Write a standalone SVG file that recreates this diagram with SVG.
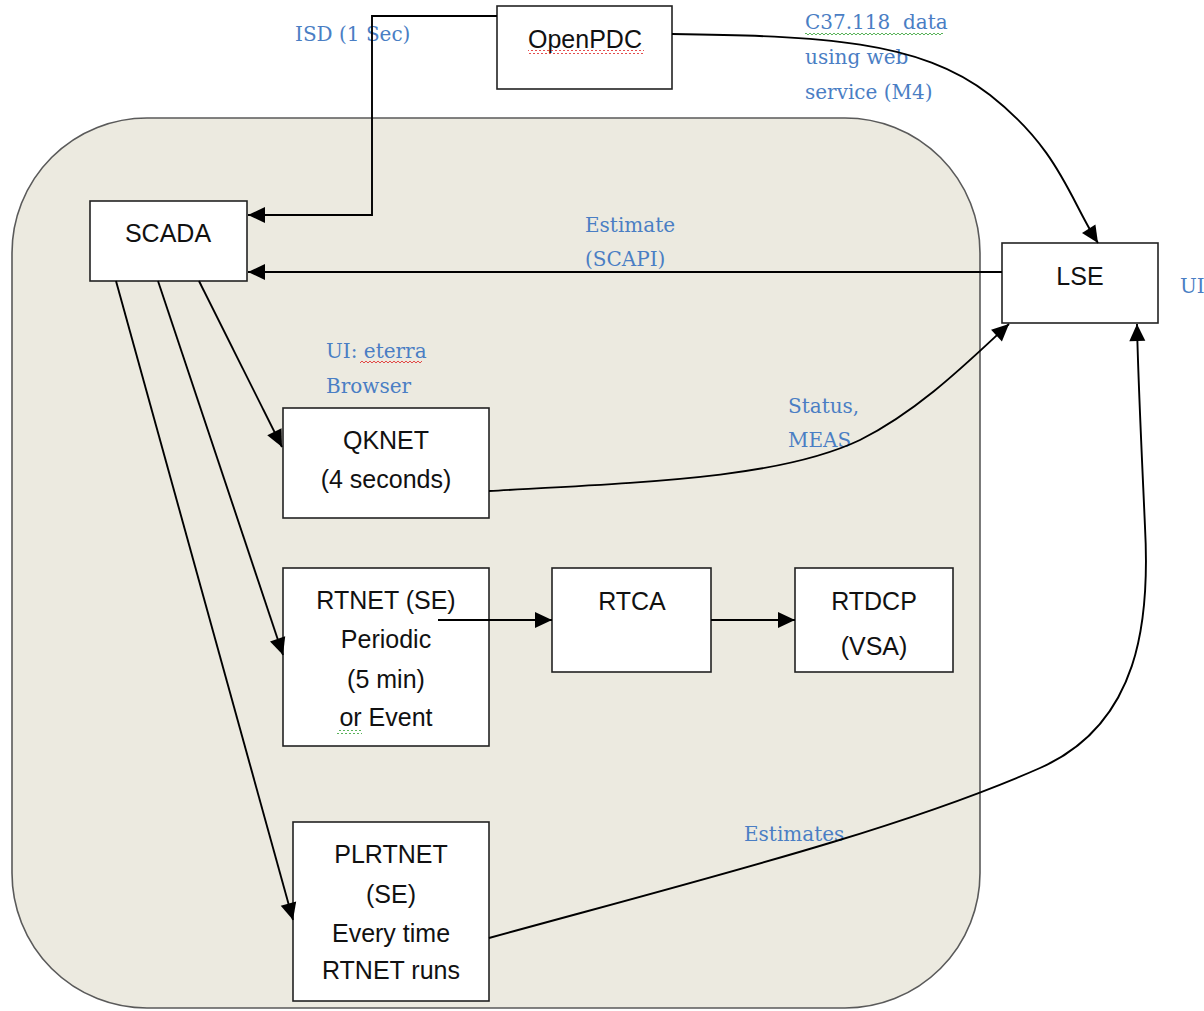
<svg xmlns="http://www.w3.org/2000/svg" width="1204" height="1011" viewBox="0 0 1204 1011">
<defs>
<marker id="ah" markerUnits="userSpaceOnUse" markerWidth="20" markerHeight="20" refX="17" refY="8" orient="auto" overflow="visible">
<path d="M0,0 L17,8 L0,16 z" fill="#000"/>
</marker>
<pattern id="wr" width="4" height="4" patternUnits="userSpaceOnUse"><path d="M0,3 L2,1 L4,3" stroke="#e02020" fill="none" stroke-width="0.8"/></pattern>
<pattern id="wg" width="4" height="4" patternUnits="userSpaceOnUse"><path d="M0,3 L2,1 L4,3" stroke="#30a030" fill="none" stroke-width="0.8"/></pattern>
<style>
.box{fill:#fff;stroke:#222;stroke-width:1.6}
.t{font-family:"Liberation Sans",Arial,sans-serif;font-size:25px;fill:#111;text-anchor:middle}
.lbl{font-family:"DejaVu Serif","Liberation Serif",serif;font-size:20px;fill:#4A7EC4;white-space:pre}
.c{fill:none;stroke:#000;stroke-width:1.9}
</style>
</defs>
<rect x="0" y="0" width="1204" height="1011" fill="#fff"/>
<g id="region">
<rect x="12" y="118" width="968" height="890" rx="135" ry="135" fill="#ECEAE0" stroke="#5a5a5a" stroke-width="1.6"/>
</g>
<g id="labels">
<text class="lbl" x="295" y="41">ISD (1 Sec)</text>
<text class="lbl" x="805" y="29" xml:space="preserve">C37.118  data</text>
<rect x="805" y="31" width="138" height="4" fill="url(#wg)"/>
<text class="lbl" x="805" y="64">using web</text>
<text class="lbl" x="805" y="99">service (M4)</text>
<text class="lbl" x="585" y="232">Estimate</text>
<text class="lbl" x="585" y="266">(SCAPI)</text>
<text class="lbl" x="1180" y="293">UI</text>
<text class="lbl" x="326" y="358">UI: eterra</text>
<rect x="360" y="361" width="62" height="4" fill="url(#wr)"/>
<text class="lbl" x="326" y="393">Browser</text>
<text class="lbl" x="788" y="413">Status,</text>
<text class="lbl" x="788" y="447">MEAS</text>
<text class="lbl" x="744" y="841">Estimates</text>
</g>
<g id="OpenPDC">
<rect class="box" x="497" y="6" width="175" height="83"/>
<text class="t" x="585" y="48">OpenPDC</text>
<rect x="528" y="50" width="116" height="4" fill="url(#wr)"/>
</g>
<g id="SCADA">
<rect class="box" x="90" y="201" width="157" height="80"/>
<text class="t" x="168" y="242">SCADA</text>
</g>
<g id="LSE">
<rect class="box" x="1002" y="243" width="156" height="80"/>
<text class="t" x="1080" y="285">LSE</text>
</g>
<g id="QKNET">
<rect class="box" x="283" y="408" width="206" height="110"/>
<text class="t" x="386" y="449">QKNET</text>
<text class="t" x="386" y="488">(4 seconds)</text>
</g>
<g id="RTNET">
<rect class="box" x="283" y="568" width="206" height="178"/>
<text class="t" x="386" y="609">RTNET (SE)</text>
<text class="t" x="386" y="648">Periodic</text>
<text class="t" x="386" y="688">(5 min)</text>
<text class="t" x="386" y="726">or Event</text>
<rect x="337" y="730" width="25" height="4" fill="url(#wg)"/>
</g>
<g id="RTCA">
<rect class="box" x="552" y="568" width="159" height="104"/>
<text class="t" x="632" y="610">RTCA</text>
</g>
<g id="RTDCP">
<rect class="box" x="795" y="568" width="158" height="104"/>
<text class="t" x="874" y="610">RTDCP</text>
<text class="t" x="874" y="655">(VSA)</text>
</g>
<g id="PLRTNET">
<rect class="box" x="293" y="822" width="196" height="179"/>
<text class="t" x="391" y="863">PLRTNET</text>
<text class="t" x="391" y="903">(SE)</text>
<text class="t" x="391" y="942">Every time</text>
<text class="t" x="391" y="979">RTNET runs</text>
</g>
<g id="connectors">
<polyline class="c" points="497,16 372,16 372,215 248,215" marker-end="url(#ah)"/>
<line class="c" x1="1002" y1="272" x2="248" y2="272" marker-end="url(#ah)"/>
<line class="c" x1="199" y1="281" x2="282" y2="447" marker-end="url(#ah)"/>
<line class="c" x1="158" y1="281" x2="283" y2="655" marker-end="url(#ah)"/>
<line class="c" x1="116" y1="281" x2="293" y2="920" marker-end="url(#ah)"/>
<line class="c" x1="438" y1="620" x2="552" y2="620" marker-end="url(#ah)"/>
<line class="c" x1="711" y1="620" x2="795" y2="620" marker-end="url(#ah)"/>
<path class="c" d="M672,34 C820,36 920,40 990,95 S1070,200 1098,243" marker-end="url(#ah)"/>
<path class="c" d="M489,491 C650,482 780,478 860,440 C920,410 970,360 1009,324" marker-end="url(#ah)"/>
<path class="c" d="M489,938 C700,880 900,830 1040,768 C1140,724 1150,620 1145,527 C1143,480 1138,380 1137,324" marker-end="url(#ah)"/>
</g>
</svg>
